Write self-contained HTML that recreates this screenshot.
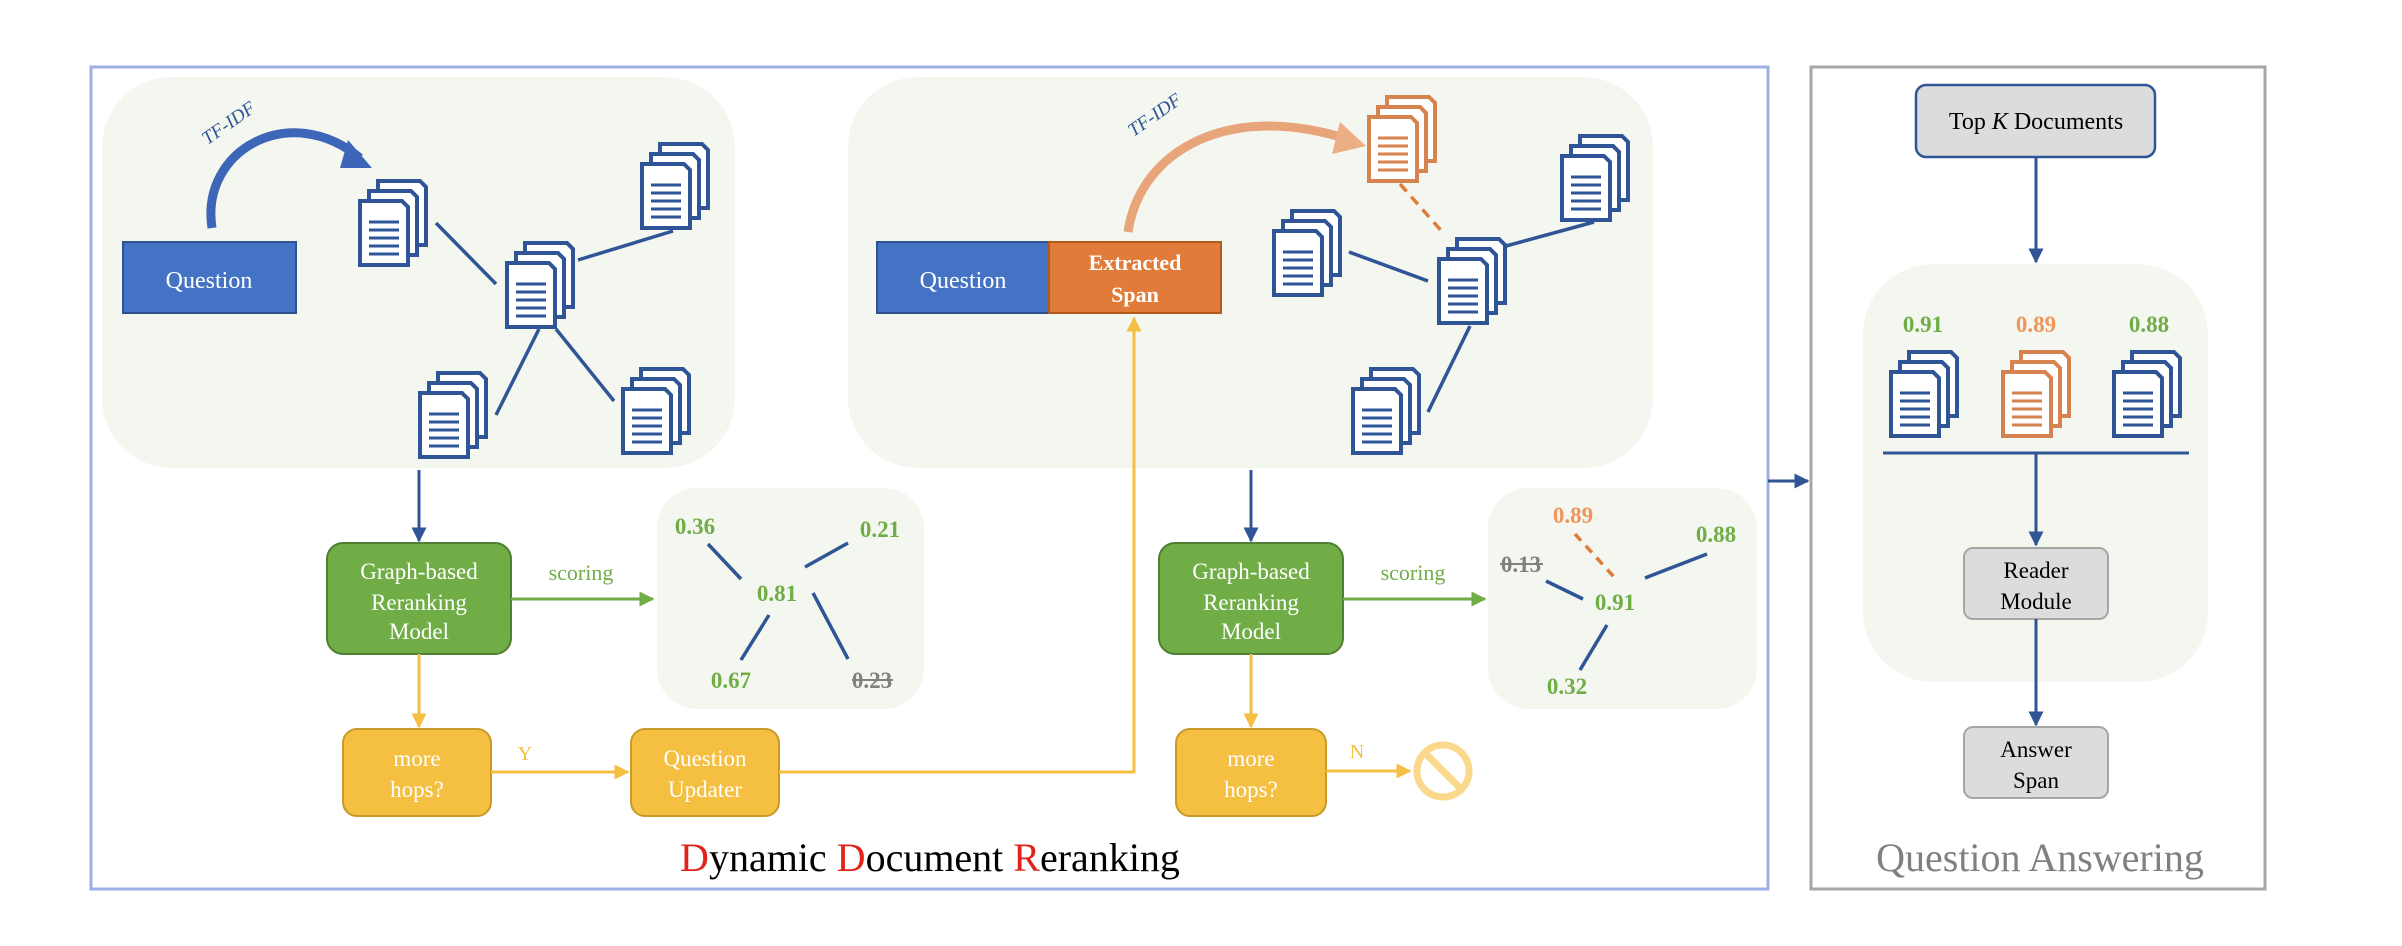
<!DOCTYPE html>
<html><head><meta charset="utf-8"><style>
body{margin:0;background:#fff;}
svg{display:block}
text{font-family:"Liberation Serif",serif;}
</style></head><body>
<svg width="2402" height="946" viewBox="0 0 2402 946" xmlns="http://www.w3.org/2000/svg">
<defs>
<symbol id="doc" viewBox="0 0 70 88">
 <g stroke-width="4" stroke-linejoin="miter">
 <path d="M20,2 H62 L68,8 V66 H20 Z" fill="#fff"/>
 <path d="M11,12 H53 L59,18 V76 H11 Z" fill="#fff"/>
 <path d="M2,22 H44 L50,28 V86 H2 Z" fill="#fff"/>
 <path d="M11,43 H41 M11,51 H41 M11,59 H41 M11,67 H41 M11,75 H41" stroke-width="3"/>
 </g>
</symbol>
<marker id="ab" viewBox="0 0 10 10" refX="9" refY="5" markerWidth="5" markerHeight="5" orient="auto"><path d="M0,0 L10,5 L0,10 Z" fill="#2F5597"/></marker>
<marker id="ay" viewBox="0 0 10 10" refX="9" refY="5" markerWidth="5" markerHeight="5" orient="auto"><path d="M0,0 L10,5 L0,10 Z" fill="#F5BF42"/></marker>
<marker id="ag" viewBox="0 0 10 10" refX="9" refY="5" markerWidth="5" markerHeight="5" orient="auto"><path d="M0,0 L10,5 L0,10 Z" fill="#70AD47"/></marker>
</defs>

<!-- outer boxes -->
<rect x="91" y="67" width="1677" height="822" fill="none" stroke="#9DB0E3" stroke-width="3"/>
<rect x="1811" y="67" width="454" height="822" fill="none" stroke="#A6A6A6" stroke-width="3"/>

<!-- panels -->
<rect x="102" y="77" width="633" height="391" rx="70" fill="#F4F7EF"/>
<rect x="848" y="77" width="805" height="391" rx="70" fill="#F4F7EF"/>
<rect x="657" y="488" width="267" height="221" rx="40" fill="#F4F7EF"/>
<rect x="1488" y="488" width="269" height="221" rx="40" fill="#F4F7EF"/>
<rect x="1863" y="264" width="345" height="418" rx="70" fill="#F4F7EF"/>

<!-- left panel -->
<rect x="123" y="242" width="173" height="71" fill="#4472C4" stroke="#2F528F" stroke-width="2"/>
<text x="209" y="288" font-size="24" fill="#fff" text-anchor="middle">Question</text>
<path d="M212,228 C200,150 290,100 360,158" fill="none" stroke="#3D66B8" stroke-width="9"/>
<path d="M348,140 L372,168 L340,168 Z" fill="#3D66B8"/>
<text x="232" y="128" font-size="19" font-style="italic" fill="#2F5597" transform="rotate(-35 232 128)" text-anchor="middle">TF-IDF</text>
<g stroke="#2F5597" stroke-width="3.5">
<line x1="436" y1="223" x2="496" y2="284"/><line x1="578" y1="260" x2="673" y2="231"/>
<line x1="539" y1="329" x2="496" y2="415"/><line x1="556" y1="329" x2="614" y2="401"/>
</g>
<g stroke="#2F5597" fill="#2F5597">
<use href="#doc" x="358" y="179" width="70" height="88"/>
<use href="#doc" x="505" y="241" width="70" height="88"/>
<use href="#doc" x="640" y="142" width="70" height="88"/>
<use href="#doc" x="418" y="371" width="70" height="88"/>
<use href="#doc" x="621" y="367" width="70" height="88"/>
</g>

<!-- right panel -->
<rect x="877" y="242" width="172" height="71" fill="#4472C4" stroke="#2F528F" stroke-width="2"/>
<text x="963" y="288" font-size="24" fill="#fff" text-anchor="middle">Question</text>
<rect x="1049" y="242" width="172" height="71" fill="#E07B39" stroke="#B35A20" stroke-width="2"/>
<text x="1135" y="270" font-size="22" fill="#fff" font-weight="bold" text-anchor="middle">Extracted</text>
<text x="1135" y="302" font-size="22" fill="#fff" font-weight="bold" text-anchor="middle">Span</text>
<path d="M1128,232 C1140,150 1230,100 1350,140" fill="none" stroke="#E8A57A" stroke-width="9"/>
<path d="M1340,122 L1366,146 L1332,154 Z" fill="#EDAE85"/>
<text x="1158" y="120" font-size="19" font-style="italic" fill="#2F5597" transform="rotate(-35 1158 120)" text-anchor="middle">TF-IDF</text>
<line x1="1400" y1="184" x2="1445" y2="235" stroke="#E07B39" stroke-width="3.5" stroke-dasharray="10,7"/>
<g stroke="#2F5597" stroke-width="3.5">
<line x1="1506" y1="246" x2="1594" y2="222"/><line x1="1349" y1="252" x2="1428" y2="281"/>
<line x1="1470" y1="326" x2="1428" y2="412"/>
</g>
<g stroke="#2F5597" fill="#2F5597">
<use href="#doc" x="1560" y="134" width="70" height="88"/>
<use href="#doc" x="1272" y="209" width="70" height="88"/>
<use href="#doc" x="1437" y="237" width="70" height="88"/>
<use href="#doc" x="1351" y="367" width="70" height="88"/>
</g>
<g stroke="#D6834F" fill="#D6834F"><use href="#doc" x="1367" y="95" width="70" height="88"/></g>

<!-- flow left -->
<line x1="419" y1="470" x2="419" y2="541" stroke="#2F5597" stroke-width="3" marker-end="url(#ab)"/>
<rect x="327" y="543" width="184" height="111" rx="16" fill="#70AD47" stroke="#507E32" stroke-width="2"/>
<text x="419" y="579" font-size="23" fill="#fff" text-anchor="middle">Graph-based</text>
<text x="419" y="610" font-size="23" fill="#fff" text-anchor="middle">Reranking</text>
<text x="419" y="639" font-size="23" fill="#fff" text-anchor="middle">Model</text>
<text x="581" y="580" font-size="22" fill="#70AD47" text-anchor="middle">scoring</text>
<line x1="511" y1="599" x2="653" y2="599" stroke="#70AD47" stroke-width="3" marker-end="url(#ag)"/>
<line x1="419" y1="654" x2="419" y2="727" stroke="#F5BF42" stroke-width="3" marker-end="url(#ay)"/>
<rect x="343" y="729" width="148" height="87" rx="14" fill="#F5BF42" stroke="#C79A2A" stroke-width="2"/>
<text x="417" y="766" font-size="23" fill="#fff" text-anchor="middle">more</text>
<text x="417" y="797" font-size="23" fill="#fff" text-anchor="middle">hops?</text>
<text x="525" y="760" font-size="20" fill="#F5BF42" text-anchor="middle">Y</text>
<line x1="491" y1="772" x2="628" y2="772" stroke="#F5BF42" stroke-width="3" marker-end="url(#ay)"/>
<rect x="631" y="729" width="148" height="87" rx="14" fill="#F5BF42" stroke="#C79A2A" stroke-width="2"/>
<text x="705" y="766" font-size="23" fill="#fff" text-anchor="middle">Question</text>
<text x="705" y="797" font-size="23" fill="#fff" text-anchor="middle">Updater</text>
<polyline points="779,772 1134,772 1134,318" fill="none" stroke="#F5BF42" stroke-width="3" marker-end="url(#ay)"/>

<!-- scores left -->
<g font-size="23" font-weight="bold" fill="#70AD47" font-family="Liberation Sans, sans-serif" style="font-family:'Liberation Sans',sans-serif">
<text x="695" y="534" text-anchor="middle">0.36</text>
<text x="880" y="537" text-anchor="middle">0.21</text>
<text x="777" y="601" text-anchor="middle">0.81</text>
<text x="731" y="688" text-anchor="middle">0.67</text>
<text x="872" y="688" text-anchor="middle" fill="#808080">0.23</text>
</g>
<line x1="852" y1="680" x2="893" y2="680" stroke="#808080" stroke-width="2"/>
<g stroke="#2F5597" stroke-width="3.5">
<line x1="708" y1="544" x2="741" y2="579"/><line x1="848" y1="543" x2="805" y2="567"/>
<line x1="769" y1="615" x2="741" y2="660"/><line x1="813" y1="593" x2="848" y2="659"/>
</g>

<!-- flow right -->
<line x1="1251" y1="470" x2="1251" y2="541" stroke="#2F5597" stroke-width="3" marker-end="url(#ab)"/>
<rect x="1159" y="543" width="184" height="111" rx="16" fill="#70AD47" stroke="#507E32" stroke-width="2"/>
<text x="1251" y="579" font-size="23" fill="#fff" text-anchor="middle">Graph-based</text>
<text x="1251" y="610" font-size="23" fill="#fff" text-anchor="middle">Reranking</text>
<text x="1251" y="639" font-size="23" fill="#fff" text-anchor="middle">Model</text>
<text x="1413" y="580" font-size="22" fill="#70AD47" text-anchor="middle">scoring</text>
<line x1="1343" y1="599" x2="1485" y2="599" stroke="#70AD47" stroke-width="3" marker-end="url(#ag)"/>
<line x1="1251" y1="654" x2="1251" y2="727" stroke="#F5BF42" stroke-width="3" marker-end="url(#ay)"/>
<rect x="1176" y="729" width="150" height="87" rx="14" fill="#F5BF42" stroke="#C79A2A" stroke-width="2"/>
<text x="1251" y="766" font-size="23" fill="#fff" text-anchor="middle">more</text>
<text x="1251" y="797" font-size="23" fill="#fff" text-anchor="middle">hops?</text>
<text x="1357" y="758" font-size="20" fill="#F5BF42" text-anchor="middle">N</text>
<line x1="1326" y1="771" x2="1410" y2="771" stroke="#F5BF42" stroke-width="3" marker-end="url(#ay)"/>
<circle cx="1443" cy="771" r="26" fill="none" stroke="#FAD98C" stroke-width="7"/>
<line x1="1425" y1="753" x2="1461" y2="789" stroke="#FAD98C" stroke-width="7"/>

<!-- scores right -->
<g font-size="23" font-weight="bold" fill="#70AD47" style="font-family:'Liberation Sans',sans-serif">
<text x="1573" y="523" text-anchor="middle" fill="#F0955A">0.89</text>
<text x="1716" y="542" text-anchor="middle">0.88</text>
<text x="1521" y="572" text-anchor="middle" fill="#808080">0.13</text>
<text x="1615" y="610" text-anchor="middle">0.91</text>
<text x="1567" y="694" text-anchor="middle">0.32</text>
</g>
<line x1="1500" y1="564" x2="1543" y2="564" stroke="#808080" stroke-width="2"/>
<line x1="1575" y1="534" x2="1615" y2="578" stroke="#E07B39" stroke-width="3.5" stroke-dasharray="9,7"/>
<g stroke="#2F5597" stroke-width="3.5">
<line x1="1645" y1="578" x2="1707" y2="554"/><line x1="1546" y1="581" x2="1583" y2="599"/>
<line x1="1607" y1="625" x2="1580" y2="670"/>
</g>

<!-- connector between -->
<line x1="1768" y1="481" x2="1808" y2="481" stroke="#2F5597" stroke-width="3" marker-end="url(#ab)"/>

<!-- QA -->
<rect x="1916" y="85" width="239" height="72" rx="10" fill="#DCDCDC" stroke="#2F5597" stroke-width="2.5"/>
<text x="2036" y="129" font-size="24" fill="#000" text-anchor="middle">Top <tspan font-style="italic">K</tspan> Documents</text>
<line x1="2036" y1="157" x2="2036" y2="262" stroke="#2F5597" stroke-width="3" marker-end="url(#ab)"/>
<g font-size="23" font-weight="bold" style="font-family:'Liberation Sans',sans-serif" text-anchor="middle">
<text x="1923" y="332" fill="#70AD47">0.91</text>
<text x="2036" y="332" fill="#F0955A">0.89</text>
<text x="2149" y="332" fill="#70AD47">0.88</text>
</g>
<g stroke="#2F5597" fill="#2F5597">
<use href="#doc" x="1889" y="350" width="70" height="88"/>
<use href="#doc" x="2112" y="350" width="70" height="88"/>
</g>
<g stroke="#D6834F" fill="#D6834F"><use href="#doc" x="2001" y="350" width="70" height="88"/></g>
<line x1="1883" y1="453" x2="2189" y2="453" stroke="#2F5597" stroke-width="3"/>
<line x1="2036" y1="453" x2="2036" y2="545" stroke="#2F5597" stroke-width="3" marker-end="url(#ab)"/>
<rect x="1964" y="548" width="144" height="71" rx="9" fill="#DCDCDC" stroke="#A6A6A6" stroke-width="2"/>
<text x="2036" y="578" font-size="23" text-anchor="middle">Reader</text>
<text x="2036" y="609" font-size="23" text-anchor="middle">Module</text>
<line x1="2036" y1="619" x2="2036" y2="725" stroke="#2F5597" stroke-width="3" marker-end="url(#ab)"/>
<rect x="1964" y="727" width="144" height="71" rx="9" fill="#DCDCDC" stroke="#A6A6A6" stroke-width="2"/>
<text x="2036" y="757" font-size="23" text-anchor="middle">Answer</text>
<text x="2036" y="788" font-size="23" text-anchor="middle">Span</text>

<!-- titles -->
<text x="930" y="871" font-size="40" text-anchor="middle" fill="#000"><tspan fill="#E0241B">D</tspan>ynamic <tspan fill="#E0241B">D</tspan>ocument <tspan fill="#E0241B">R</tspan>eranking</text>
<text x="2040" y="871" font-size="40" text-anchor="middle" fill="#808080">Question Answering</text>
</svg>
</body></html>
